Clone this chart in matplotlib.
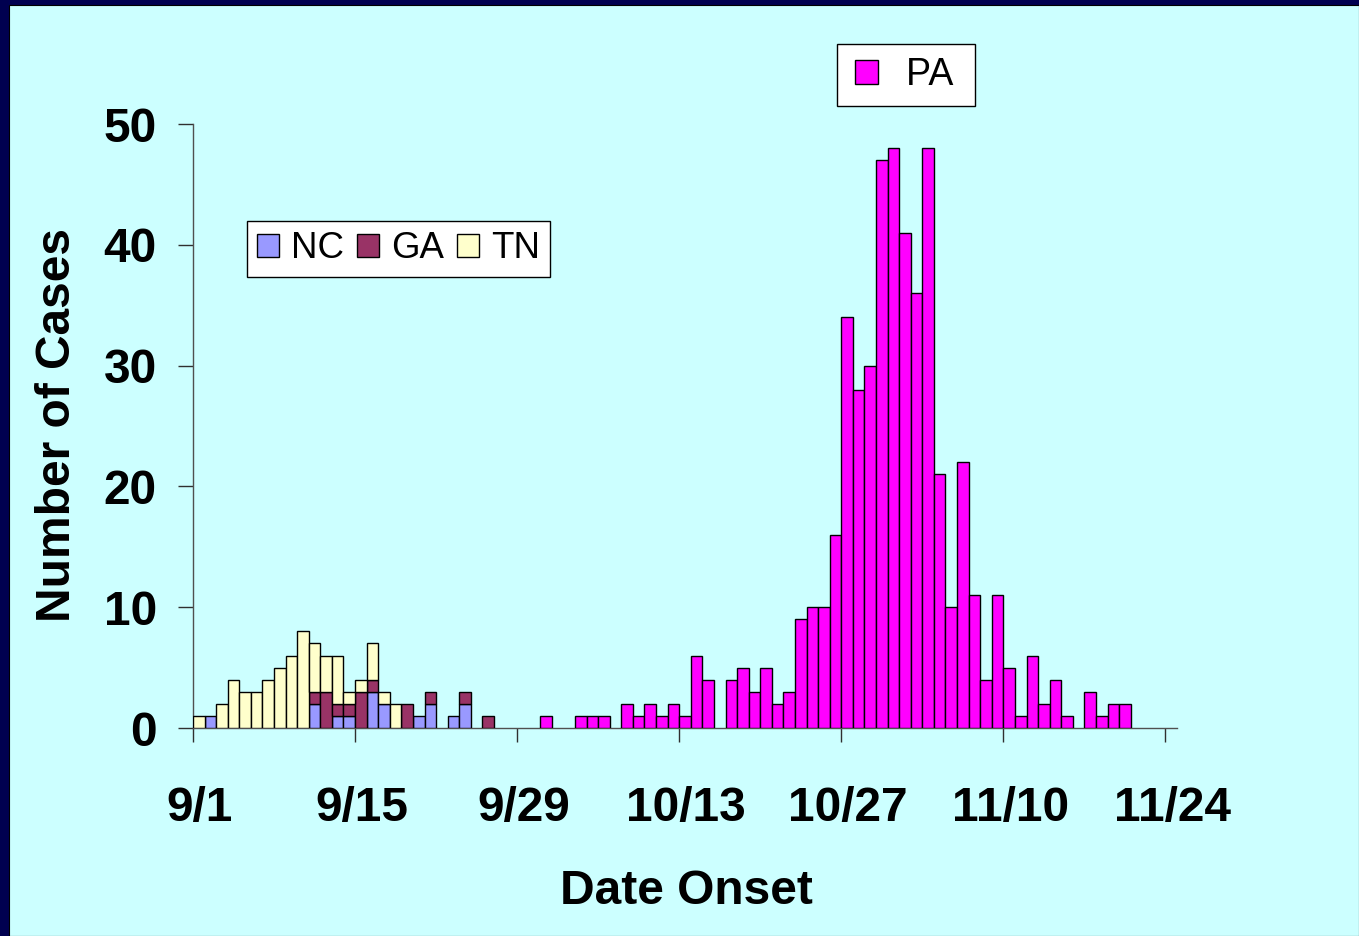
import matplotlib.pyplot as plt
import numpy as np
from matplotlib.patches import Patch, Rectangle
from matplotlib.legend_handler import HandlerPatch

plt.rcParams['font.family'] = ['Liberation Sans', 'DejaVu Sans']

# day index 0 = 9/1
early_days = list(range(0, 26))
nc_cases = [0, 1, 0, 0, 0, 0, 0, 0, 0, 0, 2, 0, 1, 1, 0, 3, 2, 0, 0, 1, 2, 0, 1, 2, 0, 0]
ga_cases = [0, 0, 0, 0, 0, 0, 0, 0, 0, 0, 1, 3, 1, 1, 3, 1, 0, 0, 2, 0, 1, 0, 0, 1, 0, 1]
tn_cases = [1, 0, 2, 4, 3, 3, 4, 5, 6, 8, 4, 3, 4, 1, 1, 3, 1, 2, 0, 0, 0, 0, 0, 0, 0, 0]

pa_days = list(range(30, 81))
pa_cases = [1, 0, 0, 1, 1, 1, 0, 2, 1, 2,
            1, 2, 1, 6, 4, 0, 4, 5, 3, 5,
            2, 3, 9, 10, 10, 16, 34, 28, 30, 47,
            48, 41, 36, 48, 21, 10, 22, 11, 4, 11,
            5, 1, 6, 2, 4, 1, 0, 3, 1, 2, 2]

tick_days = [0, 14, 28, 42, 56, 70, 84]
tick_labels = ['9/1', '9/15', '9/29', '10/13', '10/27', '11/10', '11/24']

colors = {'NC': '#9999FF', 'GA': '#993366', 'TN': '#FFFFCC', 'PA': '#FF00FF'}


def draw_bars(ax, days, values, bottoms, color):
    days = np.array(days)
    values = np.array(values)
    bottoms = np.array(bottoms)
    keep = values > 0
    ax.bar(days[keep], values[keep], width=1.0, bottom=bottoms[keep], align='edge',
           color=color, edgecolor='black', linewidth=1.0, zorder=3)


def square_right(legend, orig_handle, xdescent, ydescent, width, height, fontsize):
    # small square pushed to the right end of the handle slot
    side = height
    return Rectangle((-xdescent + width - side, -ydescent), side, side)


fig = plt.figure(figsize=(13.59, 9.36), dpi=100)
fig.patch.set_facecolor('#000050')
fig.add_artist(Rectangle((9 / 1359, 0), 1 - 9 / 1359, 1 - 5 / 936, transform=fig.transFigure,
                         facecolor='#CCFFFF', edgecolor='black', linewidth=0.8, zorder=-10))

ax = fig.add_axes([193 / 1359, 208 / 936, 984 / 1359, 604 / 936])
ax.set_facecolor('none')

zeros = np.zeros(len(early_days))
draw_bars(ax, early_days, nc_cases, zeros, colors['NC'])
draw_bars(ax, early_days, ga_cases, np.array(nc_cases), colors['GA'])
draw_bars(ax, early_days, tn_cases, np.array(nc_cases) + np.array(ga_cases), colors['TN'])
draw_bars(ax, pa_days, pa_cases, np.zeros(len(pa_days)), colors['PA'])

ax.set_xlim(0, 85)
ax.set_ylim(0, 50)

for side in ['top', 'right']:
    ax.spines[side].set_visible(False)
for side in ['left', 'bottom']:
    ax.spines[side].set_color('#505050')
    ax.spines[side].set_linewidth(1.0)

# tick marks at the dates, labels shifted a little to the right like the original
ax.set_xticks(tick_days)
ax.set_xticklabels([])
ax.set_xticks([d + 0.6 for d in tick_days], minor=True)
ax.set_xticklabels(tick_labels, minor=True, fontsize=34.5, fontweight='bold')
ax.tick_params(axis='x', which='major', direction='out', length=10, width=1.0, color='#303030')
ax.tick_params(axis='x', which='minor', length=0, pad=42)

ax.set_yticks([0, 10, 20, 30, 40, 50])
ax.set_yticklabels(['0', '10', '20', '30', '40', '50'], fontsize=34.5, fontweight='bold')
ax.tick_params(axis='y', direction='out', length=11, width=1.0, color='#303030', pad=15)

fig.text(58 / 1359, 1 - 425 / 936, 'Number of Cases', rotation=90, ha='center', va='center',
         fontsize=34.5, fontweight='bold')
fig.text(686 / 1359, 1 - 892 / 936, 'Date Onset', ha='center', va='center',
         fontsize=34.5, fontweight='bold')

state_handles = [Patch(facecolor=colors[s], edgecolor='black', linewidth=1.0) for s in ['NC', 'GA', 'TN']]
leg1 = ax.legend(state_handles, ['NC', 'GA', 'TN'], ncol=3, loc='upper left',
                 bbox_to_anchor=(247 / 1359, 1 - 221 / 936), bbox_transform=fig.transFigure,
                 borderaxespad=0, fontsize=26.4, handlelength=0.6, handleheight=0.6,
                 handletextpad=0.33, columnspacing=0.35, borderpad=0.28,
                 fancybox=False, framealpha=1, edgecolor='black', facecolor='white')
leg1.get_frame().set_linewidth(1.0)
ax.add_artist(leg1)

pa_handle = Patch(facecolor=colors['PA'], edgecolor='black', linewidth=1.0)
leg2 = ax.legend([pa_handle], ['PA '], loc='upper left',
                 bbox_to_anchor=(837 / 1359, 1 - 44 / 936), bbox_transform=fig.transFigure,
                 borderaxespad=0, fontsize=27, handlelength=0.75, handleheight=0.58,
                 handletextpad=0.75, borderpad=0.35,
                 handler_map={pa_handle: HandlerPatch(patch_func=square_right)},
                 fancybox=False, framealpha=1, edgecolor='black', facecolor='white')
leg2.get_frame().set_linewidth(1.0)

fig.savefig('out.png', dpi=100, facecolor=fig.get_facecolor())
